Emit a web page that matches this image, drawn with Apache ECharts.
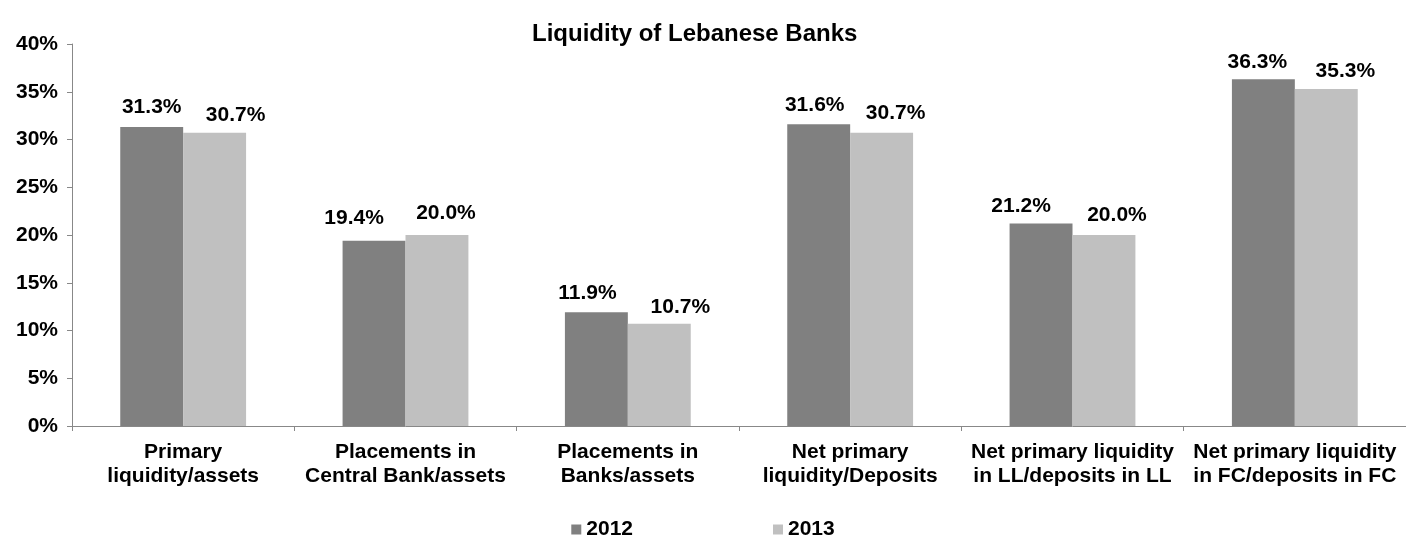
<!DOCTYPE html>
<html>
<head>
<meta charset="utf-8">
<script src="https://cdn.jsdelivr.net/npm/echarts@6/dist/echarts.min.js"></script>
<style>
  html, body { margin: 0; padding: 0; background: #fff; }
  #chart { width: 1406px; height: 538px; }
</style>
</head>
<body>
<div id="chart"></div>
<script>
// Liquidity ratios of Lebanese banks, 2012 vs 2013 (percent)
const categories = [
  'Primary\nliquidity/assets',
  'Placements in\nCentral Bank/assets',
  'Placements in\nBanks/assets',
  'Net primary\nliquidity/Deposits',
  'Net primary liquidity\nin LL/deposits in LL',
  'Net primary liquidity\nin FC/deposits in FC'
];
const values2012 = [31.3, 19.4, 11.9, 31.6, 21.2, 36.3];
const values2013 = [30.7, 20.0, 10.7, 30.7, 20.0, 35.3];
const seriesNames = ['2012', '2013'];

// Hand-placed value labels: horizontal / vertical nudges in px per bar
const labelNudge2012 = [[0, 0], [-20, -3], [-9, 0], [-4, 0], [-20, 2], [-6, 2]];
const labelNudge2013 = [[21, 2], [9, -2], [21, 3], [14, 0], [13, 0], [19, 2]];

const FONT = 'Liberation Sans, Arial, sans-serif';
const chart = echarts.init(document.getElementById('chart'));

const barLabel = {
  show: true,
  position: 'top',
  distance: 9,
  formatter: p => p.value.toFixed(1) + '%',
  color: '#000',
  fontFamily: FONT,
  fontWeight: 'bold',
  fontSize: 21
};

const withNudge = (values, nudges) =>
  values.map((v, i) => ({ value: v, label: { offset: nudges[i] } }));

chart.setOption({
  animation: false,
  title: {
    text: 'Liquidity of Lebanese Banks',
    left: 527,
    top: 17,
    textStyle: { fontFamily: FONT, fontWeight: 'bold', fontSize: 24, color: '#000' }
  },
  legend: {
    top: 514,
    left: 'center',
    itemWidth: 10,
    itemHeight: 10,
    itemGap: 140,
    icon: 'rect',
    textStyle: { fontFamily: FONT, fontWeight: 'bold', fontSize: 21, color: '#000' },
    data: seriesNames
  },
  grid: { left: 72, right: -3, top: 44, bottom: 112, containLabel: false },
  xAxis: {
    type: 'category',
    data: categories,
    axisLine: { lineStyle: { color: '#888', width: 1 } },
    axisTick: { show: true, length: 5, lineStyle: { color: '#888' } },
    axisLabel: {
      interval: 0,
      margin: 14,
      color: '#000',
      fontFamily: FONT,
      fontWeight: 'bold',
      fontSize: 21,
      lineHeight: 24
    }
  },
  yAxis: {
    type: 'value',
    min: 0,
    max: 40,
    interval: 5,
    splitLine: { show: false },
    axisLine: { show: true, lineStyle: { color: '#888', width: 1 } },
    axisTick: { show: true, length: 5, lineStyle: { color: '#888' } },
    axisLabel: {
      formatter: v => v + '%',
      margin: 14,
      color: '#000',
      fontFamily: FONT,
      fontWeight: 'bold',
      fontSize: 21
    }
  },
  series: [
    {
      name: seriesNames[0],
      type: 'bar',
      data: withNudge(values2012, labelNudge2012),
      barGap: '0%',
      barCategoryGap: '43.4%',
      itemStyle: { color: '#808080' },
      label: barLabel
    },
    {
      name: seriesNames[1],
      type: 'bar',
      data: withNudge(values2013, labelNudge2013),
      itemStyle: { color: '#C0C0C0' },
      label: barLabel
    }
  ]
});
</script>
</body>
</html>
